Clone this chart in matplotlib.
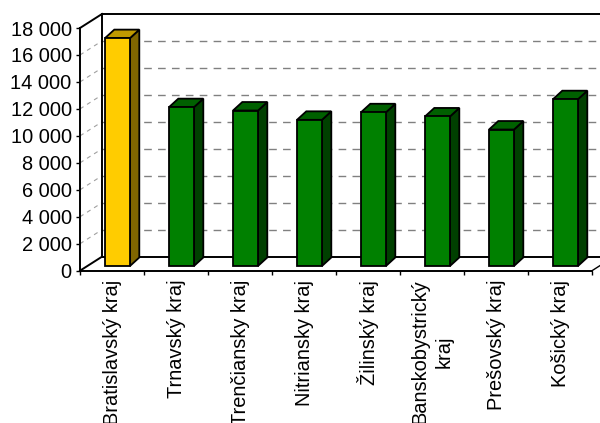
import matplotlib
matplotlib.use("Agg")
import matplotlib.pyplot as plt
from matplotlib.patches import Polygon
import numpy as np

# data
regions = ["Bratislavský kraj", "Trnavský kraj", "Trenčiansky kraj", "Nitriansky kraj",
           "Žilinský kraj", "Banskobystrický\nkraj", "Prešovský kraj", "Košický kraj"]
values = [16900, 11780, 11530, 10840, 11400, 11090, 10120, 12370]
yticks = list(range(0, 18001, 2000))
ymax = 18000

plt.rcParams['font.family'] = ['Liberation Sans', 'DejaVu Sans']
plt.rcParams['lines.scale_dashes'] = False

W, H = 600, 423
fig = plt.figure(figsize=(6, 4.23), dpi=100)
ax = fig.add_axes([80 / W, 1 - 270.7 / H, 512 / W, 242.7 / H])
ax.set_xlim(-0.5, 7.5)
ax.set_ylim(0, ymax)
ax.patch.set_visible(False)

# depth offsets (data units)
wdx, wdy = 22 / 64, 1040      # wall depth
sdx, sdy = 5.5 / 64, 350      # bar front face shift
bdx, bdy = 9.3 / 64, 630      # bar depth
bw = 25 / 64

lw_frame = 1.4
x0, x1 = -0.5, 7.5

# back wall, left wall, floor
ax.add_patch(Polygon([(x0 + wdx, wdy), (x1 + wdx + 1, wdy), (x1 + wdx + 1, ymax + wdy),
                      (x0 + wdx, ymax + wdy)], closed=True, fc='white', ec='none',
                     clip_on=False, zorder=0))
ax.plot([x0 + wdx, x1 + wdx + 1], [ymax + wdy] * 2, color='black', lw=lw_frame, clip_on=False, zorder=1)
ax.plot([x0 + wdx, x1 + wdx + 1], [wdy] * 2, color='black', lw=lw_frame, clip_on=False, zorder=1)
ax.plot([x0 + wdx] * 2, [wdy, ymax + wdy], color='black', lw=lw_frame, clip_on=False, zorder=1)
ax.plot([x0, x0 + wdx], [ymax, ymax + wdy], color='black', lw=lw_frame, clip_on=False, zorder=1)
ax.plot([x0, x0 + wdx], [0, wdy], color='black', lw=lw_frame, clip_on=False, zorder=1)
ax.plot([x1, x1 + wdx], [0, wdy], color='black', lw=1.0, clip_on=False, zorder=1)

# gridlines on back and left wall
for v in yticks[1:-1]:
    ax.plot([x0 + wdx, x1 + wdx + 1], [v + wdy] * 2, color='#808080', lw=1.0,
            ls=(0, (5.5, 4.5)), clip_on=False, zorder=0.5)
    ax.plot([x0, x0 + wdx], [v, v + wdy], color='#a0a0a0', lw=0.8,
            ls=(0, (3, 3)), clip_on=False, zorder=0.5)

# bars
x = np.arange(len(values))
front = ['#FFCC00'] + ['#008000'] * (len(values) - 1)
side = ['#806600'] + ['#004000'] * (len(values) - 1)
top = ['#C09A00'] + ['#006000'] * (len(values) - 1)
ax.bar(x + sdx, values, width=bw, bottom=sdy, color=front, edgecolor='black',
       linewidth=1.3, zorder=3, clip_on=False)
for i, v in enumerate(values):
    xl = x[i] + sdx - bw / 2
    xr = x[i] + sdx + bw / 2
    b, t = sdy, sdy + v
    ax.add_patch(Polygon([(xr, b), (xr + bdx, b + bdy), (xr + bdx, t + bdy), (xr, t)],
                         closed=True, fc=side[i], ec='black', lw=1.3, zorder=2, clip_on=False))
    ax.add_patch(Polygon([(xl, t), (xr, t), (xr + bdx, t + bdy), (xl + bdx, t + bdy)],
                         closed=True, fc=top[i], ec='black', lw=1.3, zorder=2, clip_on=False))

# axes lines and ticks
for s in ['top', 'right']:
    ax.spines[s].set_visible(False)
ax.spines['left'].set_linewidth(lw_frame)
ax.spines['bottom'].set_linewidth(lw_frame)
ax.spines['left'].set_zorder(4)
ax.spines['bottom'].set_zorder(4)

ax.set_yticks(yticks)
ax.set_yticklabels([f"{v:,}".replace(",", " ") for v in yticks])
ax.tick_params(axis='y', direction='out', length=3, width=1.0, pad=3, labelsize=14.4)

ax.set_xticks(np.arange(-0.5, 8, 1))
ax.set_xticklabels([])
ax.tick_params(axis='x', which='major', direction='out', length=3, width=1.0)
ax.set_xticks(x, regions, minor=True)
ax.tick_params(axis='x', which='minor', length=0, pad=6.5, labelsize=14.4)
for lab in ax.get_xticklabels(minor=True):
    lab.set_rotation(90)
    lab.set_multialignment('center')
    lab.set_linespacing(1.3)

fig.savefig("out.png", dpi=100)
